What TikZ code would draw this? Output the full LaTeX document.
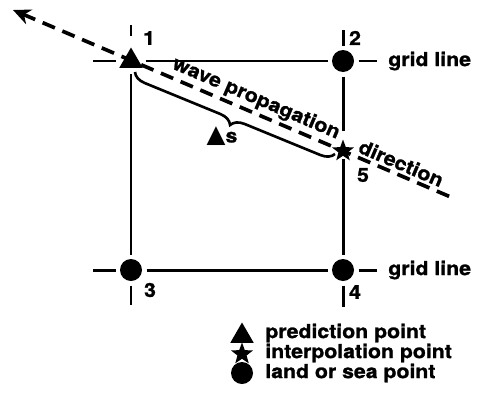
\documentclass[tikz,border=0pt]{standalone}
\usepackage{fontspec}
\setmainfont{TeX Gyre Heros}[FakeStretch=1.1, BoldFeatures={FakeBold=1.3}]
\newfontfamily\symfont{DejaVu Sans}
\usetikzlibrary{arrows.meta, shapes.geometric, decorations.pathreplacing}

\begin{document}
\begin{tikzpicture}[
    x=0.02cm, y=-0.02cm,
    font=\bfseries\fontsize{11}{13}\selectfont,
    gridln/.style={line width=1.7pt},
    wave/.style={line width=2.1pt, dash pattern=on 7.6pt off 4.6pt},
    dirtext/.style={sloped, above=1.5pt, inner sep=0pt},
    bracel/.style={line width=1.5pt, decorate, decoration={brace, mirror, amplitude=0.26cm}},
    predpt/.style={regular polygon, regular polygon sides=3, fill=black, inner sep=0pt, minimum size=0.54cm, outer sep=0.12cm},
    interpt/.style={star, star points=5, star point ratio=2.4, fill=black, inner sep=0pt, minimum size=0.46cm, outer sep=0.06cm},
    landpt/.style={circle, fill=black, inner sep=0pt, minimum size=0.44cm, outer sep=0.09cm},
    numlbl/.style={inner sep=0pt, font=\bfseries\fontsize{11}{13}\selectfont},
    keylbl/.style={anchor=west, inner sep=0pt}
]
    \useasboundingbox (0,0) rectangle (479,406);

    % direction of the wave
    \coordinate (tip) at (13,10);
    \coordinate (tail) at (453,198);
    \draw[wave, {Stealth[length=10pt, width=9pt]}-] (tip) -- (tail)
        node[dirtext, pos=0.54] (wavelbl) {wave propagation}
        node[dirtext, pos=0.872] (dirlbl) {direction};

    % distance along the ray
    \coordinate (bra) at (135,72);
    \coordinate (brb) at (335,154);
    \draw[bracel] (bra) -- (brb);
    \node[inner sep=0pt] (dslbl) at (222,136) {{\symfont\fontsize{14}{14}\selectfont ▲}s};

    % grid points
    \node[predpt] (p1) at (131,61) {};
    \node[landpt] (p2) at (343,61) {};
    \node[landpt] (p3) at (131,270) {};
    \node[landpt] (p4) at (343,270) {};
    \node[interpt] (p5) at (343,151) {};

    % grid lines
    \draw[gridln] (p1) -- (p2);
    \draw[gridln] (p3) -- (p4);
    \draw[gridln] (p1) -- (p3);
    \draw[gridln] (p2) -- (p5);
    \draw[gridln] (p5) -- (p4);

    % stubs past the points
    \coordinate (s1w) at (93,61);
    \coordinate (s1n) at (131,25);
    \coordinate (s2n) at (343,30);
    \coordinate (s2e) at (377,61);
    \coordinate (s3w) at (93,270);
    \coordinate (s3s) at (131,305);
    \coordinate (s4e) at (377,270);
    \coordinate (s4s) at (343,307);
    \draw[gridln] (s1w) -- (p1);
    \draw[gridln] (s1n) -- (p1);
    \draw[gridln] (s2n) -- (p2);
    \draw[gridln] (p2) -- (s2e);
    \draw[gridln] (s3w) -- (p3);
    \draw[gridln] (p3) -- (s3s);
    \draw[gridln] (p4) -- (s4e);
    \draw[gridln] (p4) -- (s4s);

    % labels
    \node[numlbl] (n1) at (149,38) {1};
    \node[numlbl] (n2) at (355,38) {2};
    \node[numlbl] (n3) at (150,290) {3};
    \node[numlbl] (n4) at (355,292) {4};
    \node[numlbl] (n5) at (363,175) {5};
    \node[keylbl] (gl1) at (388,61) {grid line};
    \node[keylbl] (gl2) at (388,270) {grid line};

    % key
    \node[predpt, outer sep=0pt] (kpred) at (242,336) {};
    \node[interpt, outer sep=0pt] (kinter) at (242,354) {};
    \node[landpt, outer sep=0pt] (kland) at (242,373) {};
    \node[keylbl] (tpred) at (265,333) {prediction point};
    \node[keylbl] (tinter) at (265,353) {interpolation point};
    \node[keylbl] (tland) at (265,373) {land or sea point};
\end{tikzpicture}
\end{document}
